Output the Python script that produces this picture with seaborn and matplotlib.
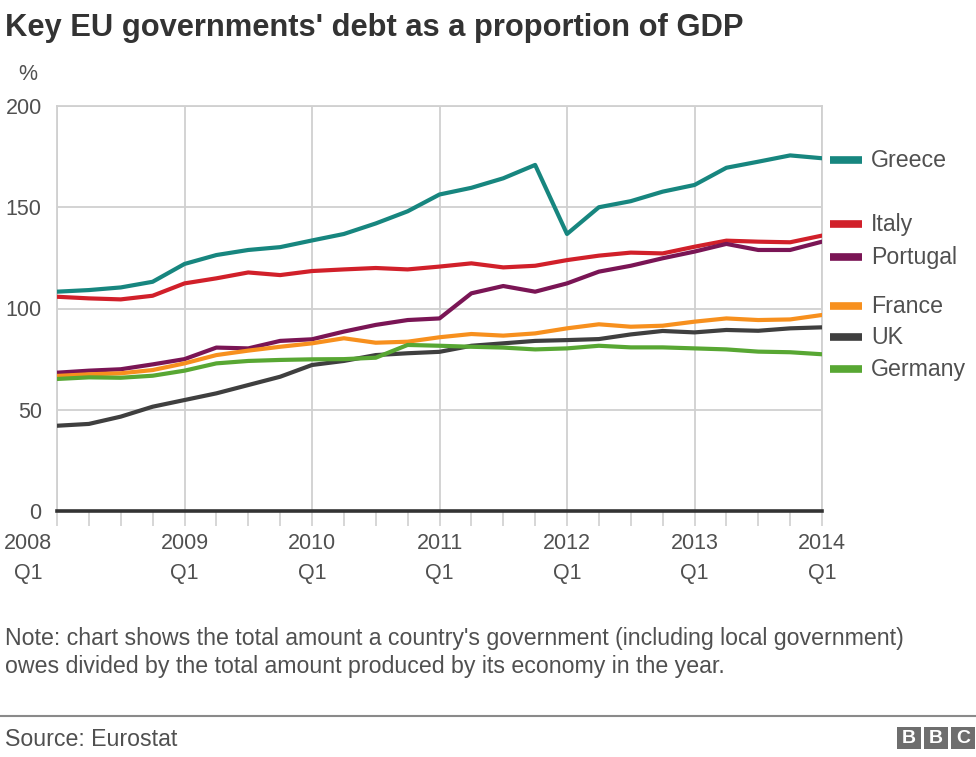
import numpy as np
import pandas as pd
import matplotlib
matplotlib.use("Agg")
import matplotlib.pyplot as plt
import matplotlib.transforms as mtransforms
from matplotlib.patches import Rectangle
import seaborn as sns

# ---------------- data ----------------
quarters = [2008 + q * 0.25 for q in range(25)]  # 2008Q1 .. 2014Q1
countries = ["Greece", "Italy", "Portugal", "France", "UK", "Germany"]

greece = [108.3, 109.1, 110.4, 113.2, 122.0, 126.4, 128.9, 130.3, 133.6, 136.8,
          142.0, 148.0, 156.3, 159.6, 164.3, 170.9, 136.8, 150.0, 153.0, 157.7,
          161.0, 169.5, 172.5, 175.6, 174.2]
italy = [105.8, 105.0, 104.5, 106.3, 112.4, 114.9, 117.8, 116.5, 118.5, 119.3,
         120.0, 119.3, 120.7, 122.3, 120.3, 121.1, 123.9, 126.1, 127.6, 127.2,
         130.5, 133.5, 133.0, 132.7, 136.0]
portugal = [68.3, 69.3, 70.0, 72.4, 75.0, 80.7, 80.3, 84.0, 84.8, 88.6,
            91.9, 94.3, 95.1, 107.5, 111.1, 108.3, 112.4, 118.2, 121.1, 124.8,
            128.1, 131.9, 128.9, 128.9, 133.0]
france = [66.7, 67.5, 68.0, 69.6, 72.9, 77.0, 79.2, 81.1, 82.8, 85.3,
          83.1, 83.6, 85.8, 87.4, 86.6, 87.7, 90.2, 92.2, 91.0, 91.5,
          93.5, 95.1, 94.3, 94.6, 96.8]
uk = [42.1, 43.0, 46.6, 51.5, 54.8, 58.1, 62.2, 66.3, 72.1, 74.1,
      77.0, 77.9, 78.6, 81.6, 82.8, 84.0, 84.4, 84.9, 87.2, 88.9,
      88.2, 89.4, 89.0, 90.2, 90.7]
germany = [65.2, 66.0, 65.8, 66.8, 69.3, 72.9, 74.1, 74.6, 74.9, 75.0,
           75.7, 82.0, 81.6, 81.1, 80.7, 79.8, 80.3, 81.6, 80.8, 80.8,
           80.3, 79.8, 78.7, 78.4, 77.4]

year_ticks = [2008, 2009, 2010, 2011, 2012, 2013, 2014]
year_labels = ["2008\nQ1", "2009\nQ1", "2010\nQ1", "2011\nQ1", "2012\nQ1", "2013\nQ1", "2014\nQ1"]
y_ticks = [0, 50, 100, 150, 200]

# ---------------- style ----------------
colors = {
    "Greece": "#17867f",
    "Italy": "#d1202a",
    "Portugal": "#7a1555",
    "France": "#f7901e",
    "UK": "#3f3f3f",
    "Germany": "#58a733",
}
# legend label vertical placement (data units), grouped as in the original
legend_y = {"Greece": 173.3, "Italy": 141.7, "Portugal": 125.4,
            "France": 101.2, "UK": 85.9, "Germany": 70.1}

series = {"Greece": greece, "Italy": italy, "Portugal": portugal,
          "France": france, "UK": uk, "Germany": germany}
df = pd.DataFrame([
    {"quarter": q, "value": v, "country": c}
    for c in countries for q, v in zip(quarters, series[c])
])

sns.set_style("white")
plt.rcParams["font.family"] = ["Liberation Sans", "DejaVu Sans"]

fig = plt.figure(figsize=(9.76, 7.57), dpi=100)
ax = fig.add_axes([57 / 976, 1 - 511 / 757, (822 - 57) / 976, (511 - 106) / 757])

TXT = "#505050"
GRID = "#d0d0d0"

sns.lineplot(data=df, x="quarter", y="value", hue="country", hue_order=countries,
             palette=colors, linewidth=3.0, legend=False, ax=ax, zorder=3)

ax.set_xlim(2008, 2014)
ax.set_ylim(0, 200)
ax.set_xlabel("")
ax.set_ylabel("")

ax.set_yticks(y_ticks)
ax.set_yticklabels([str(t) for t in y_ticks])
ax.set_xticks(year_ticks)
ax.set_xticklabels(year_labels, linespacing=1.55)
ax.set_xticks(quarters, minor=True)

ax.grid(True, which="major", color=GRID, linewidth=1.3, zorder=0)
ax.set_axisbelow(True)
ax.tick_params(axis="y", which="both", length=0, pad=11, labelsize=15.5, labelcolor=TXT)
ax.tick_params(axis="x", which="major", bottom=True, length=11, width=1.2, color=GRID,
               pad=5, labelsize=15.5, labelcolor=TXT)
ax.tick_params(axis="x", which="minor", bottom=True, length=11, width=1.2, color=GRID)

for s in ["left", "top", "right"]:
    ax.spines[s].set_color(GRID)
    ax.spines[s].set_linewidth(1.3)
ax.spines["bottom"].set_color("#333333")
ax.spines["bottom"].set_linewidth(2.6)
ax.spines["bottom"].set_zorder(4)

# shift the first x label so it fits inside the figure
first = ax.get_xticklabels()[0]
first.set_transform(first.get_transform() +
                    mtransforms.ScaledTranslation(-29 / 100, 0, fig.dpi_scale_trans))

# right-hand labels
blend = mtransforms.blended_transform_factory(ax.transAxes, ax.transData)
for c in countries:
    yy = legend_y[c]
    ax.plot([1.0105, 1.052], [yy, yy], transform=blend, color=colors[c],
            linewidth=5.5, solid_capstyle="butt", clip_on=False)
    ax.text(1.0645, yy, c, transform=blend, ha="left", va="center",
            fontsize=16.7, color=TXT, clip_on=False)

# titles / annotations
fig.text(5 / 976, 1 - 28 / 757, "Key EU governments' debt as a proportion of GDP",
         ha="left", va="center", fontsize=22.2, fontweight="bold", color="#333333")
fig.text(28 / 976, 1 - 75 / 757, "%", ha="center", va="center", fontsize=15.5, color=TXT)
fig.text(5 / 976, 1 - 638 / 757,
         "Note: chart shows the total amount a country's government (including local government)",
         ha="left", va="center", fontsize=16.7, color=TXT)
fig.text(5 / 976, 1 - 666 / 757,
         "owes divided by the total amount produced by its economy in the year.",
         ha="left", va="center", fontsize=16.7, color=TXT)
fig.add_artist(plt.Line2D([0, 1], [1 - 716 / 757, 1 - 716 / 757], color="#8a8a8a",
                          linewidth=1.5, transform=fig.transFigure))
fig.text(5 / 976, 1 - 739 / 757, "Source: Eurostat", ha="left", va="center",
         fontsize=16.7, color=TXT)

# BBC blocks
for i, letter in enumerate("BBC"):
    x0 = 897 + i * 27
    fig.add_artist(Rectangle((x0 / 976, 1 - 749 / 757), 24 / 976, 22 / 757,
                             transform=fig.transFigure, facecolor="#6e6e6e",
                             edgecolor="none"))
    fig.text((x0 + 12) / 976, 1 - 738.5 / 757, letter, ha="center", va="center",
             fontsize=14, fontweight="bold", color="white")

fig.savefig("out.png", dpi=100)
